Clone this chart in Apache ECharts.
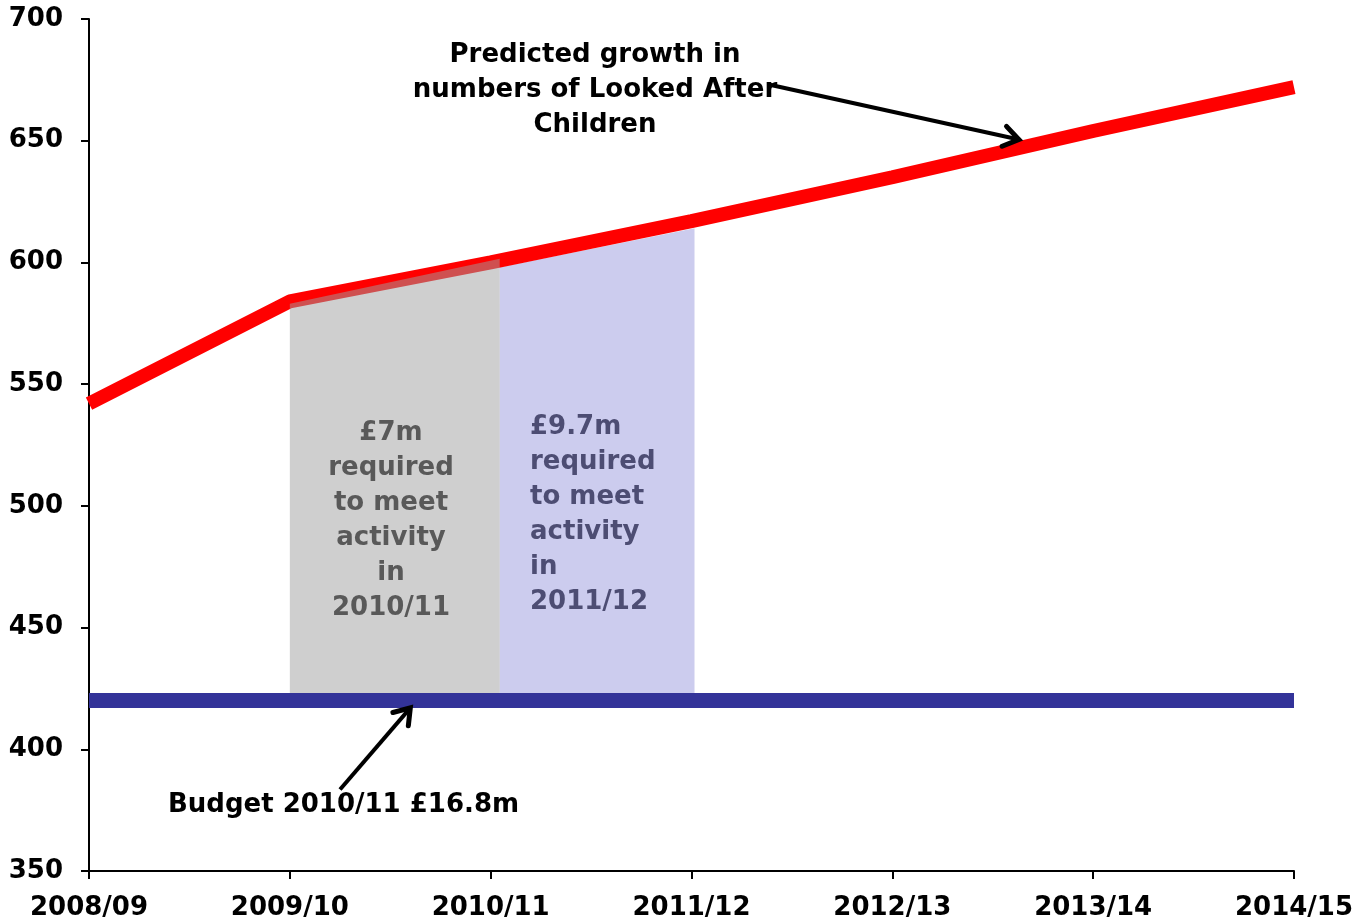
<!DOCTYPE html>
<html>
<head>
<meta charset="utf-8">
<script src="https://cdn.jsdelivr.net/npm/echarts@6/dist/echarts.min.js"></script>
<style>
  html, body { margin: 0; padding: 0; background: #fff; }
  #main { width: 1356px; height: 923px; }
</style>
</head>
<body>
<div id="main"></div>
<script>
var years = ['2008/09', '2009/10', '2010/11', '2011/12', '2012/13', '2013/14', '2014/15'];
var looked = [542, 584, 600, 617, 635, 654, 672];  // predicted LAC numbers
var budget = [420, 420, 420, 420, 420, 420, 420];  // budget level
// shaded blocks: [xStart, xEnd, bottom, topLeft, topRight]
var grayBlock = [[1, 2.045, 422, 583, 601.5]];
var lavBlock = [[2.045, 3.015, 422, 598, 614]];
// arrows: [fromX, fromY, toX, toY]
var arrows = [[3.39, 673, 4.63, 650.5], [1.25, 383.5, 1.6, 417]];

var FONT = '"DejaVu Sans", Verdana, sans-serif';

function toPairs(arr) {
    return arr.map(function (v, i) { return [i, v]; });
}

function blockRenderer(color) {
    return function (params, api) {
        var a = api.coord([api.value(0), api.value(2)]);
        var b = api.coord([api.value(1), api.value(2)]);
        var c = api.coord([api.value(1), api.value(4)]);
        var d = api.coord([api.value(0), api.value(3)]);
        return {
            type: 'polygon',
            shape: { points: [a, b, c, d] },
            style: { fill: color }
        };
    };
}

function arrowRenderer(params, api) {
    var p0 = api.coord([api.value(0), api.value(1)]);
    var p1 = api.coord([api.value(2), api.value(3)]);
    var ang = Math.atan2(p1[1] - p0[1], p1[0] - p0[0]);
    var len = 18, spread = 0.6;
    var h1 = [p1[0] - len * Math.cos(ang - spread), p1[1] - len * Math.sin(ang - spread)];
    var h2 = [p1[0] - len * Math.cos(ang + spread), p1[1] - len * Math.sin(ang + spread)];
    return {
        type: 'group',
        children: [
            { type: 'line', shape: { x1: p0[0], y1: p0[1], x2: p1[0], y2: p1[1] },
              style: { stroke: '#000', lineWidth: 4 } },
            { type: 'polyline', shape: { points: [h1, p1, h2] },
              style: { stroke: '#000', lineWidth: 5, fill: null, lineCap: 'round', lineJoin: 'miter' } }
        ]
    };
}

var myChart = echarts.init(document.getElementById('main'));
myChart.setOption({
    animation: false,
    backgroundColor: '#fff',
    grid: { left: 89, right: 61, top: 19, bottom: 52 },
    xAxis: {
        type: 'value',
        min: 0, max: 6, interval: 1,
        splitLine: { show: false },
        axisLine: { show: true, onZero: false, lineStyle: { color: '#000', width: 2 } },
        axisTick: { show: true, length: 8, lineStyle: { color: '#000', width: 2 } },
        axisLabel: {
            margin: 24, color: '#000', fontFamily: FONT, fontWeight: 'bold', fontSize: 26,
            formatter: function (v) { return years[v]; }
        }
    },
    yAxis: {
        type: 'value',
        min: 350, max: 700, interval: 50,
        splitLine: { show: false },
        axisLine: { show: true, lineStyle: { color: '#000', width: 2 } },
        axisTick: { show: true, length: 8, lineStyle: { color: '#000', width: 2 } },
        axisLabel: { margin: 26, color: '#000', fontFamily: FONT, fontWeight: 'bold', fontSize: 26 }
    },
    series: [
        {
            type: 'custom', z: 1,
            renderItem: blockRenderer('#ccccee'),
            data: lavBlock
        },
        {
            name: 'Looked After Children', type: 'line', z: 2,
            showSymbol: false,
            lineStyle: { color: '#ff0000', width: 14, cap: 'butt' },
            data: toPairs(looked)
        },
        {
            type: 'custom', z: 3,
            renderItem: blockRenderer('rgba(160,160,160,0.5)'),
            data: grayBlock
        },
        {
            name: 'Budget', type: 'line', z: 4,
            showSymbol: false,
            lineStyle: { color: '#333399', width: 15 },
            data: toPairs(budget)
        },
        {
            type: 'custom', z: 5, clip: false,
            renderItem: arrowRenderer,
            data: arrows
        }
    ],
    graphic: [
        { type: 'text', x: 595, y: 90, z: 10,
          style: { text: 'Predicted growth in\nnumbers of Looked After\nChildren', font: 'bold 26px ' + FONT,
                   lineHeight: 35, align: 'center', verticalAlign: 'middle', fill: '#000' } },
        { type: 'text', x: 168, y: 805, z: 10,
          style: { text: 'Budget 2010/11 \u00a316.8m', font: 'bold 26px ' + FONT,
                   align: 'left', verticalAlign: 'middle', fill: '#000' } },
        { type: 'text', x: 391, y: 521, z: 10,
          style: { text: '\u00a37m\nrequired\nto meet\nactivity\nin\n2010/11', font: 'bold 26px ' + FONT,
                   lineHeight: 35, align: 'center', verticalAlign: 'middle', fill: '#595959' } },
        { type: 'text', x: 530, y: 515, z: 10,
          style: { text: '\u00a39.7m\nrequired\nto meet\nactivity\nin\n2011/12', font: 'bold 26px ' + FONT,
                   lineHeight: 35, align: 'left', verticalAlign: 'middle', fill: '#4d4d73' } }
    ]
});
window.onresize = myChart.resize;
</script>
</body>
</html>
